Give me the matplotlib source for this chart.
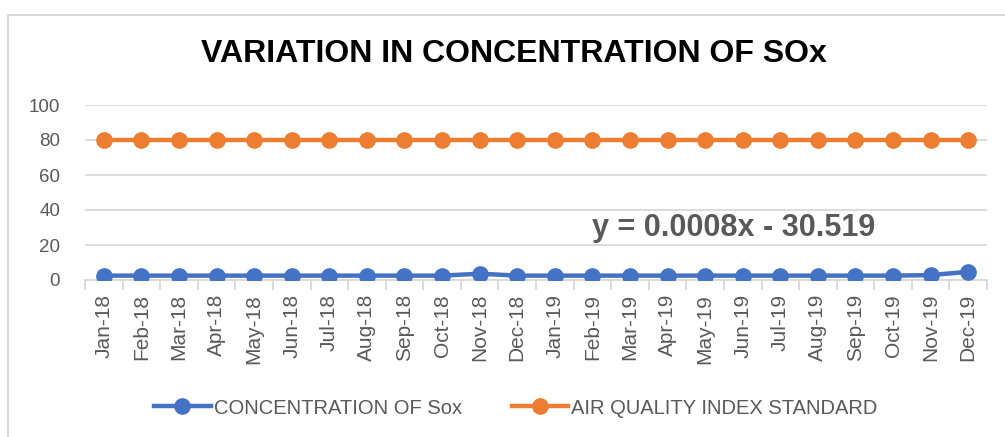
import matplotlib
matplotlib.use("Agg")
import matplotlib.pyplot as plt
from matplotlib.patches import Rectangle

months = ["Jan-18", "Feb-18", "Mar-18", "Apr-18", "May-18", "Jun-18", "Jul-18", "Aug-18",
          "Sep-18", "Oct-18", "Nov-18", "Dec-18", "Jan-19", "Feb-19", "Mar-19", "Apr-19",
          "May-19", "Jun-19", "Jul-19", "Aug-19", "Sep-19", "Oct-19", "Nov-19", "Dec-19"]
sox = [2.5, 2.5, 2.5, 2.5, 2.5, 2.5, 2.5, 2.5, 2.5, 2.5, 3.6, 2.5,
       2.5, 2.5, 2.5, 2.5, 2.5, 2.5, 2.5, 2.5, 2.5, 2.5, 2.8, 4.7]
aqi_std = [80] * 24
yticks = [0, 20, 40, 60, 80, 100]
trend_text = "y = 0.0008x - 30.519"

plt.rcParams['font.family'] = ['Liberation Sans', 'DejaVu Sans']
W, H = 1005, 437
fig = plt.figure(figsize=(W / 100, H / 100), dpi=100)
ax = fig.add_axes([85 / W, 1 - 280 / H, (987 - 85) / W, (280 - 105) / H])

gray = "#595959"
x = list(range(len(months)))
ax.plot(x, sox, color="#4472C4", lw=3.2, marker="o", ms=11, label="CONCENTRATION OF Sox", zorder=3)
ax.plot(x, aqi_std, color="#ED7D31", lw=3.2, marker="o", ms=11, label="AIR QUALITY INDEX STANDARD", zorder=3)

ax.set_xlim(-0.5, len(months) - 0.5)
ax.set_ylim(0, 100)
ax.set_yticks(yticks)
ax.set_yticklabels([str(v) for v in yticks], fontsize=13.5, color=gray)
ax.yaxis.grid(True, color="#D9D9D9", lw=1.3)
ax.set_axisbelow(True)
ax.tick_params(axis="y", length=0, pad=18)
ax.set_xticks(x)
ax.set_xticklabels(months, rotation=90, fontsize=15, color=gray)
ax.set_xticks([i - 0.5 for i in range(len(months) + 1)], minor=True)
ax.tick_params(axis="x", which="major", length=0, pad=10)
ax.tick_params(axis="x", which="minor", length=7, color="#D9D9D9", width=1.3)
for s in ["top", "right", "left"]:
    ax.spines[s].set_visible(False)
ax.spines["bottom"].set_color("#D9D9D9")
ax.spines["bottom"].set_linewidth(1.3)

ax.text(734 / W, 1 - 228 / H, trend_text, transform=fig.transFigure, fontsize=22,
        fontweight="bold", color=gray, ha="center", va="center")

fig.text(514 / W, 1 - 54 / H, "VARIATION IN CONCENTRATION OF SOx", fontsize=23,
         fontweight="bold", color="black", ha="center", va="center")

leg = fig.legend(loc="center", bbox_to_anchor=(516 / W, 1 - 408 / H), ncol=2, frameon=False,
                 fontsize=14.5, handlelength=2.8, columnspacing=2.5, handletextpad=0.15)
for t in leg.get_texts():
    t.set_color(gray)

fig.patches.append(Rectangle((8 / W, -0.1), 1.1, 1 - 15 / H + 0.1, transform=fig.transFigure,
                             fill=False, edgecolor="#D9D9D9", lw=1.5))

fig.savefig("out.png", dpi=100)
